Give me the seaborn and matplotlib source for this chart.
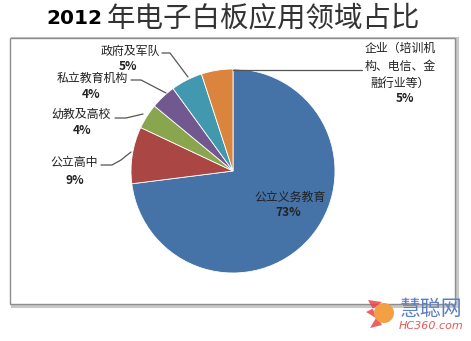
import matplotlib
matplotlib.use("Agg")
import matplotlib.pyplot as plt
from matplotlib.patches import Rectangle, Circle, Polygon
import seaborn as sns

sns.set_theme(style="white")
plt.rcParams['font.family'] = ['Noto Sans CJK SC', 'DejaVu Sans']

# ---- data ----
title_year = "2012"
title_rest = "年电子白板应用领域占比"
categories = ["公立义务教育", "公立高中", "幼教及高校", "私立教育机构", "政府及军队",
              "企业（培训机\n构、电信、金\n融行业等）"]
values = [73, 9, 4, 4, 5, 5]
pct_labels = ["73%", "9%", "4%", "4%", "5%", "5%"]
colors = ["#4572A7", "#AA4643", "#89A54E", "#71588F", "#4198AF", "#DB843D"]

W, H = 471, 341
fig = plt.figure(figsize=(W / 100, H / 100), dpi=100)
ax = fig.add_axes([0, 0, 1, 1])
ax.set_xlim(0, W)
ax.set_ylim(0, H)
ax.set_aspect("equal")
ax.axis("off")

def Y(y):
    return H - y

# frame of the chart area
ax.add_patch(Rectangle((12, Y(306)), 445, 268, fill=False, edgecolor="#C8C8C8", lw=2.2, zorder=0))
ax.add_patch(Rectangle((10, Y(304)), 445, 266, fill=True, facecolor="white",
                       edgecolor="#8E8E8E", lw=1.0, zorder=1))

# pie
cx, cy, r = 233, 171, 102
ax.pie(values, colors=colors, startangle=90, counterclock=False,
       center=(cx, Y(cy)), radius=r, frame=True,
       wedgeprops=dict(edgecolor="white", linewidth=0.6, zorder=3))
ax.set_xlim(0, W)
ax.set_ylim(0, H)
ax.axis("off")

lab_kw = dict(fontsize=8.6, color="#222222", ha="center", va="center", zorder=5)
line_kw = dict(color="#555555", lw=0.9, zorder=4)

# 公立义务教育 (inside)
ax.text(290, Y(197), categories[0], **lab_kw)
ax.text(288, Y(212), pct_labels[0], fontweight="bold", **lab_kw)

# 公立高中
ax.text(74, Y(162), categories[1], **lab_kw)
ax.text(75, Y(180), pct_labels[1], fontweight="bold", **lab_kw)
ax.plot([101, 112, 121, 131], [Y(165), Y(165), Y(160), Y(152)], **line_kw)

# 幼教及高校
ax.text(81, Y(114), categories[2], **lab_kw)
ax.text(82, Y(130), pct_labels[2], fontweight="bold", **lab_kw)
ax.plot([115, 126, 143], [Y(118), Y(118), Y(114)], **line_kw)

# 私立教育机构
ax.text(92, Y(78), categories[3], **lab_kw)
ax.text(91, Y(95), pct_labels[3], fontweight="bold", **lab_kw)
ax.plot([131, 141, 166], [Y(80), Y(80), Y(93)], **line_kw)

# 政府及军队
ax.text(130, Y(51), categories[4], **lab_kw)
ax.text(128, Y(66), pct_labels[4], fontweight="bold", **lab_kw)
ax.plot([162, 170, 188], [Y(53), Y(53), Y(77)], **line_kw)

# 企业
ax.text(400, Y(66), categories[5], fontsize=8.6, color="#222222", ha="center",
        va="center", linespacing=1.45, zorder=5)
ax.text(405, Y(99), pct_labels[5], fontweight="bold", **lab_kw)
ax.plot([233, 362], [Y(70), Y(70)], **line_kw)

# title
ax.text(102, Y(19), title_year, fontsize=14.5, fontweight="heavy", color="black",
        family="DejaVu Sans", ha="right", va="center", zorder=6)
ax.text(107, Y(18), title_rest, fontsize=20.5, fontweight="light", color="#333333",
        ha="left", va="center", zorder=6)

# watermark
ax.add_patch(Circle((384, Y(313)), 10, facecolor="#F2A043", edgecolor="none", zorder=6))
ax.add_patch(Polygon([[368, Y(300)], [382, Y(302)], [376, Y(307)], [366, Y(312)],
                      [376, Y(318)], [370, Y(328)], [382, Y(325)], [376, Y(315)]],
                     closed=True, facecolor="#E8464A", edgecolor="none", alpha=0.85, zorder=5))
ax.text(431, Y(309), "慧聪网", fontsize=15, color="#5B7FC4", style="italic",
        ha="center", va="center", zorder=6)
ax.text(431, Y(326), "HC360.com", fontsize=8, color="#E05A5A", style="italic",
        family="DejaVu Sans", ha="center", va="center", zorder=6)

fig.savefig("out.png", dpi=100)
